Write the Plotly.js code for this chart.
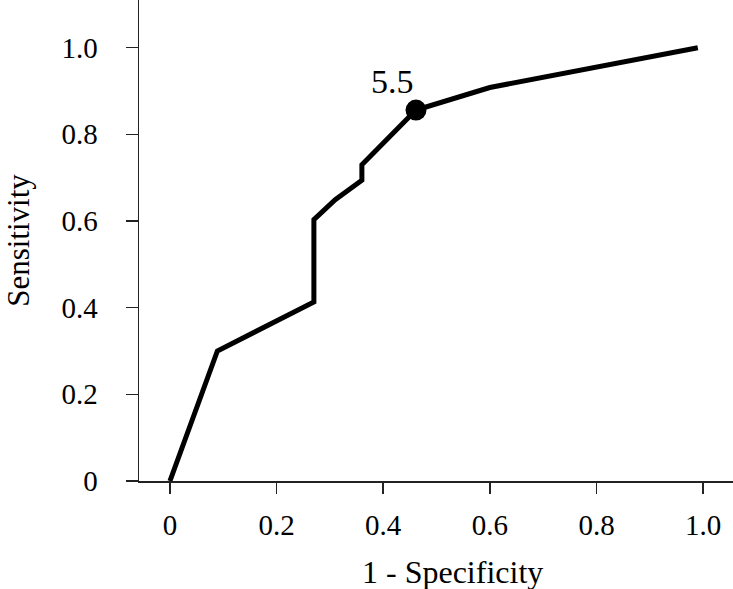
<!DOCTYPE html>
<html>
<head>
<meta charset="utf-8">
<script src="https://cdn.plot.ly/plotly-3.0.1.min.js"></script>
<style>
  html, body { margin: 0; padding: 0; background: #fff; }
  #chart { width: 733px; height: 589px; }
</style>
</head>
<body>
<div id="chart"></div>
<script>
// ROC curve points (1 - specificity, sensitivity)
const fpr = [0, 0.089, 0.27, 0.27, 0.31, 0.36, 0.36, 0.40, 0.4615, 0.60, 0.775, 0.99];
const tpr = [0, 0.30, 0.413, 0.603, 0.649, 0.694, 0.73, 0.78, 0.856, 0.908, 0.95, 1.0];

// Optimal cut-off point
const cutX = [0.4615];
const cutY = [0.856];
const cutLabel = ['5.5'];

// Tick labels
const xTickVals = [0, 0.2, 0.4, 0.6, 0.8, 1.0];
const xTickText = ['0', '0.2', '0.4', '0.6', '0.8', '1.0'];
const yTickVals = [0, 0.2, 0.4, 0.6, 0.8, 1.0];
const yTickText = ['0', '0.2', '0.4', '0.6', '0.8', '1.0'];

const serif = 'Liberation Serif, Times New Roman, serif';

const data = [{
    x: fpr,
    y: tpr,
    type: 'scatter',
    mode: 'lines',
    line: {color: '#000', width: 5},
    hoverinfo: 'skip'
}, {
    x: cutX,
    y: cutY,
    type: 'scatter',
    mode: 'markers',
    marker: {color: '#000', size: 21},
    hoverinfo: 'skip'
}];

const layout = {
    width: 733,
    height: 589,
    showlegend: false,
    paper_bgcolor: '#fff',
    plot_bgcolor: '#fff',
    margin: {l: 139, r: 0, t: 0, b: 108},
    xaxis: {
        range: [-0.058, 1.056],
        tickvals: xTickVals,
        ticktext: xTickText,
        ticks: 'outside',
        ticklen: 11,
        tickwidth: 1.5,
        tickcolor: '#222',
        ticklabelstandoff: 7,
        showline: true,
        linecolor: '#222',
        linewidth: 1.5,
        showgrid: false,
        zeroline: false,
        tickfont: {family: serif, size: 29, color: '#000'}
    },
    yaxis: {
        range: [0, 1.11],
        tickvals: yTickVals,
        ticktext: yTickText,
        ticks: 'outside',
        ticklen: 12,
        tickwidth: 1.5,
        tickcolor: '#222',
        ticklabelstandoff: 22,
        showline: true,
        linecolor: '#222',
        linewidth: 1.5,
        showgrid: false,
        zeroline: false,
        tickfont: {family: serif, size: 29, color: '#000'},
        title: {
            text: 'Sensitivity',
            font: {family: serif, size: 31, color: '#000'},
            standoff: 22
        }
    },
    annotations: [{
        // cut-off label
        x: cutX[0] - 0.045,
        y: cutY[0] + 0.065,
        xref: 'x',
        yref: 'y',
        text: cutLabel[0],
        showarrow: false,
        font: {family: serif, size: 34, color: '#000'}
    }, {
        // x axis title, placed slightly right of centre as in the source
        x: 0.53,
        y: -0.19,
        xref: 'x',
        yref: 'paper',
        yanchor: 'middle',
        text: '1 - Specificity',
        showarrow: false,
        font: {family: serif, size: 32, color: '#000'}
    }]
};

Plotly.newPlot('chart', data, layout, {staticPlot: true, displayModeBar: false});
</script>
</body>
</html>
